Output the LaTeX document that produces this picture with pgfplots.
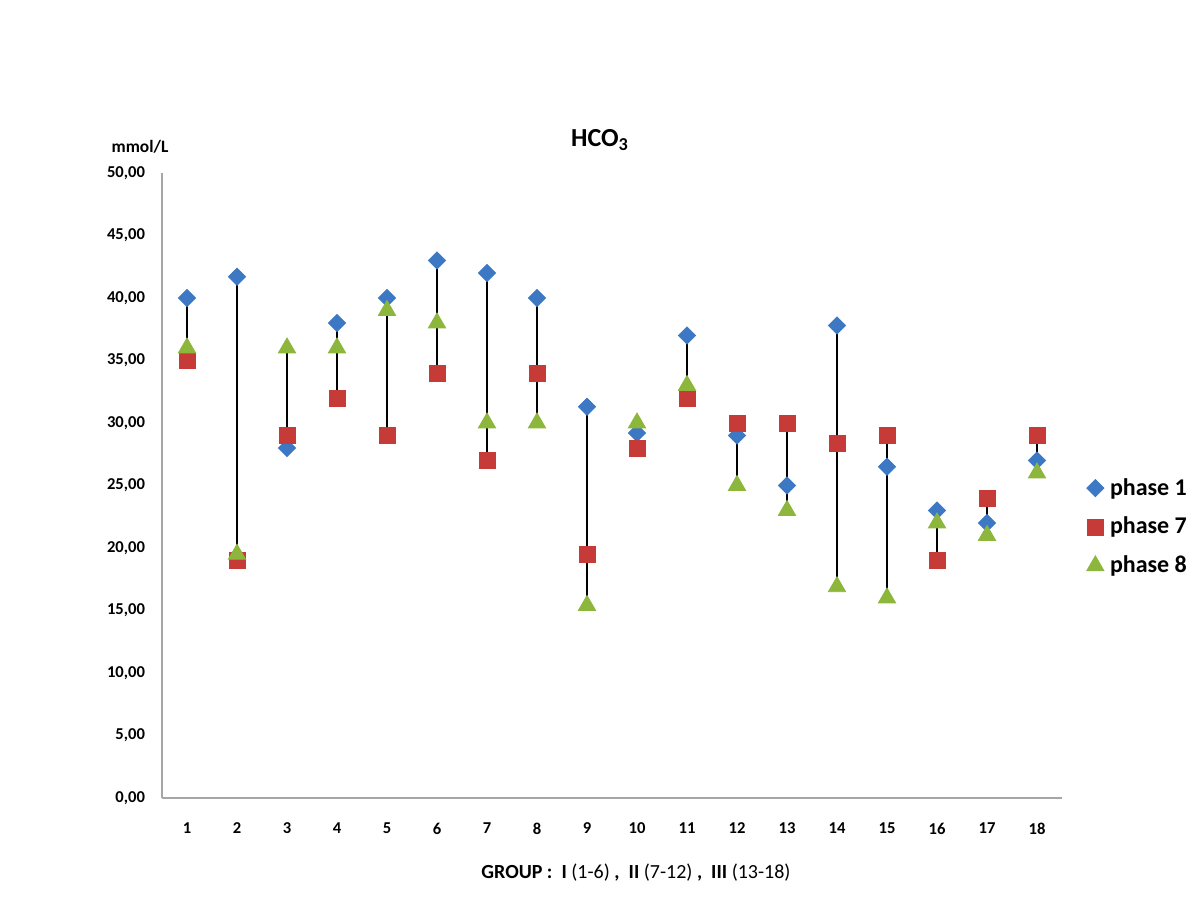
\documentclass[border=0pt]{standalone}
\usepackage{fontspec}
\setmainfont{Carlito}
\usepackage{pgfplots}
\pgfplotsset{compat=1.18}
\definecolor{pblue}{HTML}{3C78C3}
\definecolor{pred}{HTML}{C63A37}
\definecolor{pgreen}{HTML}{8DB63C}
\begin{document}
\begin{tikzpicture}
\path[use as bounding box] (0,0) rectangle (600pt,450pt);
\begin{axis}[
  at={(81pt,51pt)}, anchor=south west,
  scale only axis, width=450pt, height=312.5pt,
  xmin=0.5, xmax=18.5, ymin=0, ymax=50,
  axis x line*=bottom, axis y line*=left,
  axis line style={gray!70, line width=0.6pt, -},
  xtick={1,...,18}, ytick={0,5,...,50},
  major tick length=0pt,
  /pgf/number format/.cd, fixed, fixed zerofill, precision=2, use comma, assume math mode=true,
  /pgfplots/.cd,
  xticklabel style={font=\bfseries\fontsize{8.3}{10}\selectfont, yshift=-9pt},
  yticklabel style={font=\bfseries\fontsize{8.3}{10}\selectfont, xshift=-5pt},
  xticklabel={\pgfmathprintnumber[fixed, precision=0]{\tick}},
  unbounded coords=jump,
  legend image code/.code={\draw[mark repeat=2,mark phase=2,#1] plot coordinates {(0cm,0cm) (0.2cm,0cm) (0.4cm,0cm)};},
  legend style={at={(1.027,0.4336)}, anchor=west, draw=none, fill=none,
    font=\bfseries\fontsize{12}{14}\selectfont, row sep=5.5pt,
    inner sep=0pt, nodes={inner xsep=3pt}, cells={anchor=west}},
  legend cell align=left,
]
\addplot[black, line width=0.8pt, no marks, forget plot] coordinates {
(1,35) (1,40) (1,nan)
(2,19) (2,41.7) (2,nan)
(3,28) (3,36) (3,nan)
(4,32) (4,38) (4,nan)
(5,29) (5,40) (5,nan)
(6,34) (6,43) (6,nan)
(7,27) (7,42) (7,nan)
(8,30) (8,40) (8,nan)
(9,15.4) (9,31.3) (9,nan)
(10,28) (10,30) (10,nan)
(11,32) (11,37) (11,nan)
(12,25) (12,30) (12,nan)
(13,23) (13,30) (13,nan)
(14,16.9) (14,37.8) (14,nan)
(15,16) (15,29) (15,nan)
(16,19) (16,23) (16,nan)
(17,21) (17,24) (17,nan)
(18,26) (18,29)
};
\addplot[only marks, mark=square*, mark size=3.05pt, mark options={draw=pblue, fill=pblue, rotate=45}] coordinates {
(1,40) (2,41.7) (3,28) (4,38) (5,40) (6,43) (7,42) (8,40) (9,31.3)
(10,29.2) (11,37) (12,29) (13,25) (14,37.8) (15,26.5) (16,23) (17,22) (18,27)
};
\addlegendentry{phase 1}
\addplot[only marks, mark=square*, mark size=4pt, mark options={draw=pred, fill=pred}] coordinates {
(1,35) (2,19) (3,29) (4,32) (5,29) (6,34) (7,27) (8,34) (9,19.5)
(10,28) (11,32) (12,30) (13,30) (14,28.4) (15,29) (16,19) (17,24) (18,29)
};
\addlegendentry{phase 7}
\addplot[only marks, mark=triangle*, mark size=5pt, mark options={draw=pgreen, fill=pgreen}] coordinates {
(1,36) (2,19.5) (3,36) (4,36) (5,39) (6,38) (7,30) (8,30) (9,15.4)
(10,30) (11,33) (12,25) (13,23) (14,16.9) (15,16) (16,22) (17,21) (18,26)
};
\addlegendentry{phase 8}
\end{axis}
\node[font=\bfseries\fontsize{13}{15}\selectfont] at (300pt,380pt) {HCO\textsubscript{3}};
\node[font=\bfseries\fontsize{8.7}{10}\selectfont] at (70pt,376.5pt) {mmol/L};
\node[font=\fontsize{10}{12}\selectfont] at (318pt,13.5pt) {\textbf{GROUP :\ \ I} (1-6) \textbf{,\ \ II} (7-12) \textbf{,\ \ III} (13-18)};
\end{tikzpicture}
\end{document}
